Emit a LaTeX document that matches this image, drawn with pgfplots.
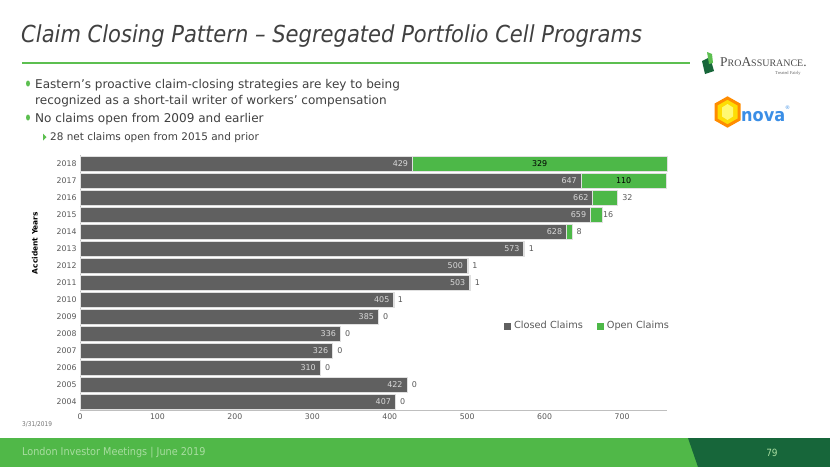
\documentclass[border=0pt]{standalone}
\usepackage{pgfplots}
\pgfplotsset{compat=1.18}
\usepackage{pgfplotstable}
\usepackage{fontspec}
\setmainfont{DejaVu Sans}
\newfontfamily\condfont{DejaVu Sans Condensed}
\newfontfamily\seriffont{Liberation Serif}
\definecolor{barGray}{HTML}{606060}
\definecolor{barGreen}{HTML}{4DB848}
\definecolor{footGreen}{HTML}{50B848}
\definecolor{darkGreen}{HTML}{17663A}
\definecolor{titleGray}{HTML}{404040}
\definecolor{tickGray}{HTML}{595959}
\definecolor{lineGreen}{HTML}{5CBF50}
\definecolor{lblgray}{HTML}{595959}
\definecolor{footText}{HTML}{A8DDA0}
\definecolor{inovaBlue}{HTML}{3A8EE6}

% year, closed claims, open claims, label, label shift from bar end (bp), dark label (100) or grey (0)
\pgfplotstableread{
year closed open lbl xs dk
2004 407 0 0 7.5 0
2005 422 0 0 7.5 0
2006 310 0 0 7.5 0
2007 326 0 0 7.5 0
2008 336 0 0 7.5 0
2009 385 0 0 7.5 0
2010 405 1 1 6 0
2011 503 1 1 7 0
2012 500 1 1 7 0
2013 573 1 1 7 0
2014 628 8 8 6.5 0
2015 659 16 16 5.5 0
2016 662 32 32 10 0
2017 647 110 110 -42.6 100
2018 429 329 329 -127.4 100
}\data

\pgfplotsset{chartframe/.style={
  at={(80bp,-410bp)}, anchor=south west,
  scale only axis, width=587bp, height=255bp,
  xmin=0, xmax=758, ymin=2003.5, ymax=2018.5,
}}

\begin{document}
\begin{tikzpicture}
\begin{scope}[x=1bp,y=-1bp]
\fill[white] (0,0) rectangle (830,467);
% title
\node[anchor=base west, inner sep=0, font=\condfont\itshape\fontsize{23.5}{28}\selectfont, text=titleGray] at (21,42) {Claim Closing Pattern – Segregated Portfolio Cell Programs};
\draw[lineGreen, line width=1.5bp] (22,63) -- (690,63);
% bullets
\fill[lineGreen] (28,83.5) ellipse (2 and 3);
\fill[lineGreen] (28,117.5) ellipse (2 and 3);
\node[anchor=base west, inner sep=0, font=\fontsize{12.1}{15}\selectfont, text=titleGray] at (35,88) {Eastern’s proactive claim-closing strategies are key to being};
\node[anchor=base west, inner sep=0, font=\fontsize{12.1}{15}\selectfont, text=titleGray] at (35,104.5) {recognized as a short-tail writer of workers’ compensation};
\node[anchor=base west, inner sep=0, font=\fontsize{12.1}{15}\selectfont, text=titleGray] at (35,122) {No claims open from 2009 and earlier};
\fill[lineGreen] (43,133.5) -- (46.5,137) -- (43,140.5) -- cycle;
\node[anchor=base west, inner sep=0, font=\fontsize{10.5}{13}\selectfont, text=titleGray] at (50,140.5) {28 net claims open from 2015 and prior};
% ProAssurance logo
\fill[darkGreen] (702,61) -- (710,57) -- (714,71) -- (705,74) -- cycle;
\fill[lineGreen] (707,52) -- (712,54) -- (713,63) -- (709,64) -- cycle;
\node[anchor=base west, inner sep=0, font=\seriffont\fontsize{13.5}{14}\selectfont, text=black!70] at (720,66) {P{\fontsize{10}{11}\selectfont RO}A{\fontsize{10}{11}\selectfont SSURANCE}.};
\node[anchor=base west, inner sep=0, font=\seriffont\fontsize{4.5}{5}\selectfont, text=black!60] at (775,74) {Treated Fairly};
% Inova logo
\draw[orange!90!yellow, line width=3bp, fill=yellow!80!orange] (727.5,98) -- (739,104.5) -- (739,119.5) -- (727.5,126) -- (716,119.5) -- (716,104.5) -- cycle;
\fill[yellow!55!white] (727.5,104) -- (733,107.5) -- (733,116.5) -- (727.5,120) -- (722,116.5) -- (722,107.5) -- cycle;
\node[anchor=base west, inner sep=0, font=\condfont\bfseries\fontsize{18}{20}\selectfont, text=inovaBlue] at (741,121) {nova};
\node[anchor=base west, inner sep=0, font=\fontsize{5}{6}\selectfont, text=inovaBlue] at (785,109) {®};
% date
\node[anchor=west, inner sep=0, font=\condfont\fontsize{6.5}{8}\selectfont, text=black!55] at (22,424) {3/31/2019};
% footer
\fill[footGreen] (0,438) rectangle (830,467);
\fill[darkGreen] (688,438) -- (830,438) -- (830,467) -- (698,467) -- cycle;
\node[anchor=west, inner sep=0, font=\condfont\fontsize{10.8}{12}\selectfont, text=footText] at (22,453) {London Investor Meetings | June 2019};
\node[anchor=center, inner sep=0, font=\condfont\fontsize{10}{12}\selectfont, text=footText] at (772,453) {79};
\end{scope}

\begin{axis}[
  chartframe,
  xbar stacked, bar width=15bp,
  xtick={0,100,...,700}, ytick={2004,...,2018},
  /pgf/number format/assume math mode=true,
  y tick label style={/pgf/number format/set thousands separator={}},
  axis x line*=bottom, axis y line*=left,
  axis line style={draw=black!25, line width=0.8bp},
  major tick length=0pt,
  tick label style={font=\fontsize{7.8}{9}\selectfont, text=tickGray},
  ylabel={\textbf{Accident Years}},
  every axis y label/.style={at={(axis description cs:-0.077,0.655)}, rotate=90, anchor=center, font=\fontsize{7.5}{9}\selectfont, text=black},
  legend style={draw=none, fill=none, at={(587.5bp-80bp,84bp)}, anchor=center, legend columns=2, font=\fontsize{9.8}{11}\selectfont, text=tickGray, /tikz/every even column/.append style={column sep=12bp}, /tikz/every odd column/.append style={column sep=1bp}},
  legend image code/.code={\fill[#1, draw=none] (0bp,-3.5bp) rectangle (7bp,3.5bp);},
  clip=false,
]
\addplot[fill=barGray, draw=black!12, line width=0.5bp,
  nodes near coords, point meta=x,
  visualization depends on={\thisrow{closed}*0.3872-3\as\cxs},
  every node near coord/.append style={anchor=east, xshift=\cxs bp, inner sep=1bp, text=white!85!black, font=\fontsize{8}{9}\selectfont}]
  table[x=closed, y=year] {\data};
\addlegendentry{Closed Claims}
\addplot[fill=barGreen, draw=black!12, line width=0.5bp]
  table[x=open, y=year] {\data};
\addlegendentry{Open Claims}
\end{axis}

% open-claim labels, placed at the end of each full bar
\begin{axis}[chartframe, hide axis, clip=false]
\addplot[only marks, mark=none,
  nodes near coords, point meta=explicit symbolic,
  visualization depends on={\thisrow{xs}\as\myxs},
  visualization depends on={\thisrow{dk}\as\mydk},
  every node near coord/.append style={anchor=center, xshift=\myxs bp, yshift=0bp, inner sep=1bp, text=black!\mydk!lblgray, font=\fontsize{8}{9}\selectfont}]
  table[x expr=\thisrow{closed}+\thisrow{open}, y=year, meta=lbl] {\data};
\end{axis}
\pgfresetboundingbox
\useasboundingbox (0,0) rectangle (830bp,-467bp);
\end{tikzpicture}
\end{document}
